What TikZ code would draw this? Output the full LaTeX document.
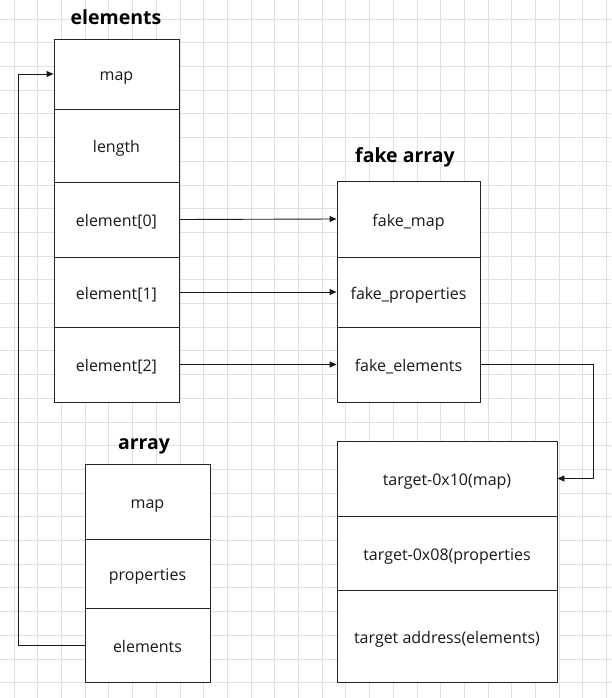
\documentclass[tikz,border=0pt]{standalone}
\usepackage{fontspec}
\setmainfont{Open Sans}
\usetikzlibrary{arrows.meta}
\begin{document}
\begin{tikzpicture}[x=1pt,y=-1pt,
  cell/.style={draw=black!85, line width=0.9pt, fill=white, rectangle, inner sep=0pt, text height=14pt, text depth=0pt, font=\fontsize{16}{18}\selectfont, text=black!90},
  title/.style={font=\bfseries\fontsize{19.5}{22}\selectfont, text=black},
  arr/.style={draw=black!90, line width=0.9pt, -{Triangle[length=7pt,width=6pt]}}]
\useasboundingbox (0,0) rectangle (611,698);
\fill[white] (0,0) rectangle (611,698);
% grid
\foreach \i in {0,...,25} {\draw[black!12, line width=0.8pt] ({14+23.7*\i},0) -- ({14+23.7*\i},698);}
\foreach \j in {0,...,29} {\draw[black!12, line width=0.8pt] (0,{-4.7+23.7*\j}) -- (611,{-4.7+23.7*\j});}
% elements
\node[title] (telem) at (116,17) {elements};
\node[cell, minimum width=125pt, minimum height=70pt] (e0) at (116.5,74) {map};
\node[cell, minimum width=125pt, minimum height=73pt] (e1) at (116.5,145.5) {length};
\node[cell, minimum width=125pt, minimum height=75pt] (e2) at (116.5,219.5) {element[0]};
\node[cell, minimum width=125pt, minimum height=70pt] (e3) at (116.5,292) {element[1]};
\node[cell, minimum width=125pt, minimum height=75pt] (e4) at (116.5,364.5) {element[2]};
% fake array
\node[title] (tfake) at (405,157) {fake array};
\node[cell, minimum width=143pt, minimum height=76pt] (f0) at (408.5,219) {fake\_map};
\node[cell, minimum width=143pt, minimum height=70pt] (f1) at (408.5,292) {fake\_properties};
\node[cell, minimum width=143pt, minimum height=75pt] (f2) at (408.5,364.5) {fake\_elements};
% array
\node[title] (tarr) at (144,446) {array};
\node[cell, minimum width=125pt, minimum height=75pt] (a0) at (147.5,501.5) {map};
\node[cell, minimum width=125pt, minimum height=69pt] (a1) at (147.5,573.5) {properties};
\node[cell, minimum width=125pt, minimum height=74pt] (a2) at (147.5,645) {elements};
% target
\node[cell, minimum width=220pt, minimum height=75pt] (t0) at (447,478.5) {target-0x10(map)};
\node[cell, minimum width=220pt, minimum height=74pt] (t1) at (447,553) {target-0x08(properties};
\node[cell, minimum width=220pt, minimum height=92pt] (t2) at (447,636) {target address(elements)};
% connectors
\draw[arr] (e2.east) -- (f0.west);
\draw[arr] (e3.east) -- (f1.west);
\draw[arr] (e4.east) -- (f2.west);
\draw[arr] (f2.east) -- ++(113,0) |- (t0.east);
\draw[arr] (a2.west) -- ++(-66,0) |- (e0.west);
\end{tikzpicture}
\end{document}
